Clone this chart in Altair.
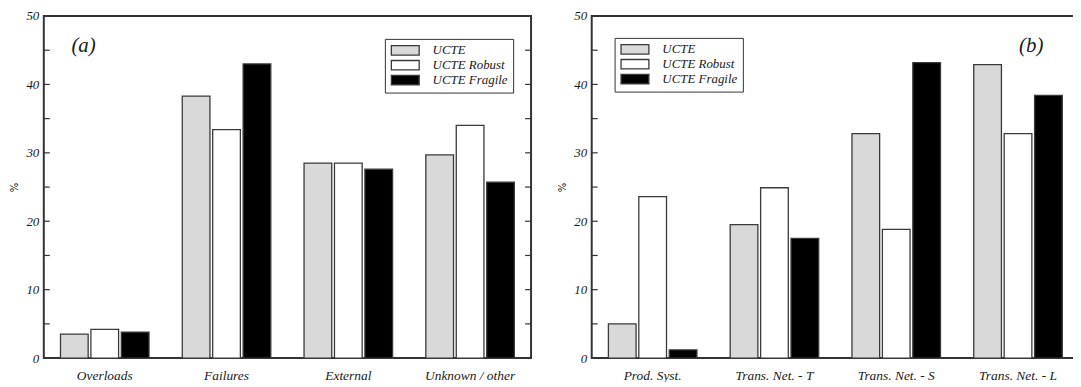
import altair as alt
import pandas as pd

series = ["UCTE", "UCTE Robust", "UCTE Fragile"]
colors = ["#d9d9d9", "#ffffff", "#000000"]

cats_a = ["Overloads", "Failures", "External", "Unknown / other"]
ucte_a = [3.5, 38.3, 28.5, 29.7]
robust_a = [4.2, 33.4, 28.5, 34.0]
fragile_a = [3.8, 43.0, 27.6, 25.7]

cats_b = ["Prod. Syst.", "Trans. Net. - T", "Trans. Net. - S", "Trans. Net. - L"]
ucte_b = [5.0, 19.5, 32.8, 42.9]
robust_b = [23.6, 24.9, 18.8, 32.8]
fragile_b = [1.2, 17.5, 43.2, 38.4]

tick_vals = [5, 10, 15, 20, 25, 30, 35, 40, 45]
label_vals = [0, 10, 20, 30, 40, 50]

W = 490
H = 344
FONT = "Liberation Serif"
TXT = "#1a1a1a"


def long(cats, a, b, c):
    rows = []
    for i, cat in enumerate(cats):
        for s, v in zip(series, [a[i], b[i], c[i]]):
            rows.append({"cat": cat, "series": s, "value": v})
    return pd.DataFrame(rows)


def panel(df, cats, tag, tag_x, leg_x, leg_y):
    yscale = alt.Scale(domain=[0, 50], nice=False, zero=True)
    bars = alt.Chart(df).mark_bar(stroke="#3a3a3a", strokeWidth=1.3).encode(
        x=alt.X("cat:N", sort=cats,
                scale=alt.Scale(paddingInner=0.273, paddingOuter=0.137),
                axis=alt.Axis(title=None, labelAngle=0, ticks=False, tickSize=0,
                              domain=False, labelPadding=11, labelFont=FONT,
                              labelFontStyle="italic", labelFontSize=13.5,
                              labelColor=TXT)),
        xOffset=alt.XOffset("series:N", sort=series,
                            scale=alt.Scale(paddingInner=0.09, paddingOuter=0)),
        y=alt.Y("value:Q", scale=yscale,
                axis=alt.Axis(title="%", values=label_vals, grid=False,
                              domain=False, ticks=False, labelPadding=5,
                              labelFont=FONT, labelFontStyle="italic",
                              labelFontSize=13, labelColor=TXT,
                              titleFont="DejaVu Sans", titleFontSize=10,
                              titleFontWeight="normal", titleColor=TXT,
                              titlePadding=6)),
        fill=alt.Fill("series:N", sort=series,
                      scale=alt.Scale(domain=series, range=colors),
                      legend=alt.Legend(title=None, orient="none",
                                        legendX=leg_x, legendY=leg_y,
                                        symbolType="M-2.8,-0.95H2.8V0.95H-2.8Z",
                                        symbolSize=100,
                                        symbolOffset=9,
                                        symbolStrokeColor="#3a3a3a",
                                        symbolStrokeWidth=1.3,
                                        labelFont=FONT, labelFontStyle="italic",
                                        labelFontSize=13, labelColor=TXT,
                                        labelOffset=21, padding=5,
                                        rowPadding=0,
                                        strokeColor="#333333",
                                        fillColor="#ffffff")),
    )
    tdf = pd.DataFrame({"t": tick_vals})
    lt = alt.Chart(tdf).mark_rule(color="#333333", strokeWidth=1.2).encode(
        y=alt.Y("t:Q", scale=yscale), x=alt.value(0), x2=alt.value(6))
    rt = alt.Chart(tdf).mark_rule(color="#333333", strokeWidth=1.2).encode(
        y=alt.Y("t:Q", scale=yscale), x=alt.value(W - 6), x2=alt.value(W))
    label = alt.Chart(pd.DataFrame({"tag": [tag]})).mark_text(
        font=FONT, fontStyle="italic", fontSize=21, color=TXT
    ).encode(text="tag:N", x=alt.value(tag_x), y=alt.value(30))
    return alt.layer(bars, lt, rt, label).properties(width=W, height=H)


left = panel(long(cats_a, ucte_a, robust_a, fragile_a), cats_a, "(a)", 40, 343, 23)
right = panel(long(cats_b, ucte_b, robust_b, fragile_b), cats_b, "(b)", 442, 23, 22)

chart = alt.hconcat(left, right, spacing=24).resolve_scale(
    fill="independent"
).resolve_legend(fill="independent").properties(
    padding={"left": 1, "top": 0, "right": -8, "bottom": -3}
).configure_view(stroke="#333333", strokeWidth=2)

chart.save("out.html", embed_options={"renderer": "svg", "actions": False})
